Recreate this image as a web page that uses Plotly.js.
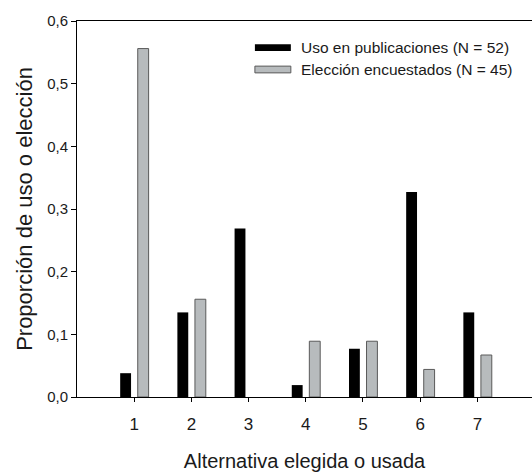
<!DOCTYPE html>
<html>
<head>
<meta charset="utf-8">
<script src="https://cdn.plot.ly/plotly-3.0.1.min.js"></script>
<style>html,body{margin:0;padding:0;background:#fff;}#chart{width:532px;height:472px;}</style>
</head>
<body>
<div id="chart"></div>
<script>
// Data
const categories = [1, 2, 3, 4, 5, 6, 7];
const seriesNames = ["Uso en publicaciones (N = 52)", "Elección encuestados (N = 45)"];
const usoPublicaciones = [0.038, 0.135, 0.269, 0.019, 0.077, 0.327, 0.135];
const eleccionEncuestados = [0.556, 0.156, 0, 0.089, 0.089, 0.044, 0.067];
const yTicks = [0, 0.1, 0.2, 0.3, 0.4, 0.5, 0.6];

const FONT = "Liberation Sans, Arial, sans-serif";
const TXT = "#1a1a1a";
const GRAY = "#b7bbbd";

const traces = [
  {type: "bar", x: categories, y: usoPublicaciones, name: seriesNames[0],
   width: 0.19, offset: -0.245, marker: {color: "#000000", line: {width: 0}}},
  {type: "bar", x: categories, y: eleccionEncuestados, name: seriesNames[1],
   width: 0.19, offset: 0.062,
   marker: {color: GRAY, line: {color: "#5a5a5a", width: eleccionEncuestados.map(v => v > 0 ? 1 : 0)}}}
];

// Manual legend (wide swatches like the reference)
const legX0 = 0.391, legX1 = 0.470, legTextX = 0.488;
const legY = [0.929, 0.871], legH = 0.009;
const shapes = [
  {type: "rect", xref: "paper", yref: "paper", x0: legX0, x1: legX1, y0: legY[0]-legH, y1: legY[0]+legH,
   fillcolor: "#000000", line: {width: 0}},
  {type: "rect", xref: "paper", yref: "paper", x0: legX0, x1: legX1, y0: legY[1]-legH, y1: legY[1]+legH,
   fillcolor: GRAY, line: {color: "#5a5a5a", width: 1}}
];
const annotations = seriesNames.map((n, i) => ({
  xref: "paper", yref: "paper", x: legTextX, y: legY[i], xanchor: "left", yanchor: "middle",
  text: n, showarrow: false, font: {family: FONT, size: 15.5, color: TXT}
}));

const layout = {
  width: 532, height: 472,
  margin: {l: 77, r: 0, t: 21, b: 75},
  paper_bgcolor: "#fff", plot_bgcolor: "#fff",
  separators: ",.",
  barmode: "overlay",
  showlegend: false,
  font: {family: FONT, color: TXT, size: 15},
  xaxis: {
    range: [0, 7.955], tickvals: categories, ticktext: categories.map(String),
    showgrid: false, zeroline: false, showline: true, linecolor: "#000", linewidth: 1,
    mirror: true, ticks: "outside", ticklen: 4, tickcolor: "#000",
    ticklabelstandoff: 8,
    tickfont: {family: FONT, size: 17, color: TXT},
    title: {text: "Alternativa elegida o usada", font: {family: FONT, size: 20, color: TXT}, standoff: 20}
  },
  yaxis: {
    range: [0, 0.6], tickvals: yTicks, tickformat: ".1f",
    showgrid: false, zeroline: false, showline: true, linecolor: "#000", linewidth: 1,
    ticks: "outside", ticklen: 5, tickcolor: "#000",
    tickfont: {family: FONT, size: 15, color: TXT},
    title: {text: "Proporción de uso o elección", font: {family: FONT, size: 22, color: TXT}, standoff: 8}
  },
  shapes: shapes,
  annotations: annotations
};

Plotly.newPlot("chart", traces, layout, {staticPlot: true, displayModeBar: false});
</script>
</body>
</html>
